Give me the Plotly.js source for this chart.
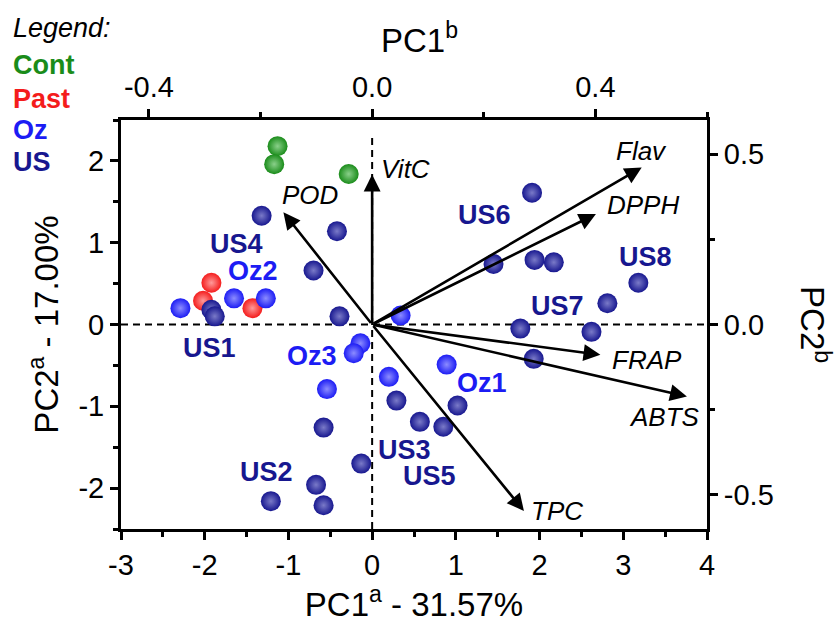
<!DOCTYPE html>
<html>
<head>
<meta charset="utf-8">
<script src="https://cdn.plot.ly/plotly-3.0.1.min.js"></script>
<style>html,body{margin:0;padding:0;background:#fff;}#chart{width:837px;height:624px;}</style>
</head>
<body>
<div id="chart"></div>
<script>
// ---- Scores (PC1a, PC2a) ----
const contX = [-1.13, -1.17, -0.28];
const contY = [2.18, 1.96, 1.84];
const pastX = [-1.92, -2.02, -1.43];
const pastY = [0.51, 0.29, 0.20];
const ozX = [-2.29, -1.65, -1.27, 0.34, -0.14, -0.22, -0.54, 0.20, 0.89];
const ozY = [0.20, 0.32, 0.32, 0.11, -0.23, -0.35, -0.79, -0.64, -0.49];
const usX = [-1.32, -0.42, -0.70, -1.92, -1.88, -0.39, 1.91, 1.45, 1.94, 2.17, 3.18, 2.81,
             1.77, 2.62, 1.93, 0.29, 1.02, 0.57, 0.85, -0.58, -0.13, -0.67, -0.58, -1.21];
const usY = [1.33, 1.14, 0.66, 0.18, 0.10, 0.10, 1.61, 0.74, 0.79, 0.76, 0.51, 0.26,
             -0.05, -0.09, -0.42, -0.93, -0.99, -1.19, -1.25, -1.26, -1.70, -1.96, -2.21, -2.16];

// ---- Loadings (PC1b, PC2b) ----
const loadNames = ['VitC', 'POD', 'Flav', 'DPPH', 'FRAP', 'ABTS', 'TPC'];
const loadX = [0.000, -0.159, 0.483, 0.401, 0.409, 0.564, 0.272];
const loadY = [0.440, 0.329, 0.461, 0.324, -0.089, -0.211, -0.547];

// ---- Group labels ----
const groupNames = ['US4', 'Oz2', 'US1', 'Oz3', 'US2', 'US6', 'US8', 'US7', 'Oz1', 'US3', 'US5'];
const groupX = [-1.62, -1.42, -1.94, -0.72, -1.26, 1.34, 3.26, 2.21, 1.31, 0.39, 0.69];
const groupY = [0.99, 0.66, -0.29, -0.38, -1.80, 1.34, 0.83, 0.23, -0.71, -1.54, -1.85];

// ---- Legend entries ----
const legendNames = ['Cont', 'Past', 'Oz', 'US'];

// ---- Tick labels ----
const xTickVals = [-3, -2, -1, 0, 1, 2, 3, 4];
const xTickText = ['-3', '-2', '-1', '0', '1', '2', '3', '4'];
const yTickVals = [-2, -1, 0, 1, 2];
const yTickText = ['-2', '-1', '0', '1', '2'];
const x2TickVals = [-0.4, 0.0, 0.4];
const x2TickText = ['-0.4', '0.0', '0.4'];
const y2TickVals = [-0.5, 0.0, 0.5];
const y2TickText = ['-0.5', '0.0', '0.5'];

// ---- styles ----
const FONT = "Arial, 'Liberation Sans', sans-serif";
const colors = {Cont: '#1a8c1a', Past: '#f41c1c', Oz: '#1c1cf4', US: '#17178f'};
const hilite = {Cont: '#8ad08a', Past: '#ff9a9a', Oz: '#8c8cff', US: '#7a7ac8'};
const labelShift = {
  VitC: [33, 6], POD: [27, 17], Flav: [0, 16], DPPH: [47, 9],
  FRAP: [47, -5], ABTS: [-22, -21], TPC: [33, 0]
};

function scoreTrace(xs, ys, key) {
  return {
    x: xs, y: ys, type: 'scatter', mode: 'markers', xaxis: 'x', yaxis: 'y',
    hoverinfo: 'skip', showlegend: false,
    marker: {size: 20, color: colors[key], line: {width: 0},
             gradient: {type: 'radial', color: hilite[key]}}
  };
}

const traces = [
  scoreTrace(contX, contY, 'Cont'),
  scoreTrace(pastX, pastY, 'Past'),
  scoreTrace(ozX, ozY, 'Oz'),
  scoreTrace(usX, usY, 'US'),
  {x: loadX, y: loadY, type: 'scatter', mode: 'markers', xaxis: 'x2', yaxis: 'y2',
   marker: {opacity: 0, size: 1}, hoverinfo: 'skip', showlegend: false}
];

const annotations = [];
loadNames.forEach((n, i) => {
  annotations.push({
    xref: 'x2', yref: 'y2', axref: 'x2', ayref: 'y2',
    x: loadX[i], y: loadY[i], ax: 0, ay: 0, text: '',
    showarrow: true, arrowhead: 2, arrowsize: 1.3, arrowwidth: 2.6, arrowcolor: '#000', standoff: 0
  });
  annotations.push({
    xref: 'x2', yref: 'y2', x: loadX[i], y: loadY[i], text: n, showarrow: false,
    xshift: labelShift[n][0], yshift: labelShift[n][1],
    font: {family: FONT, size: 26, color: '#000', style: 'italic'}
  });
});
groupNames.forEach((n, i) => {
  const key = n.startsWith('Oz') ? 'Oz' : 'US';
  annotations.push({
    xref: 'x', yref: 'y', x: groupX[i], y: groupY[i], text: '<b>' + n + '</b>', showarrow: false,
    font: {family: FONT, size: 27, color: colors[key]}
  });
});
// Legend text block
annotations.push({xref: 'paper', yref: 'paper', x: -0.186, y: 1.225, xanchor: 'left', yanchor: 'middle',
  text: 'Legend:', showarrow: false, borderpad: 0, font: {family: FONT, size: 27, color: '#000', style: 'italic'}});
const legendYs = [1.134, 1.051, 0.975, 0.898];
legendNames.forEach((n, i) => {
  annotations.push({xref: 'paper', yref: 'paper', x: -0.186, y: legendYs[i], xanchor: 'left', yanchor: 'middle',
    text: '<b>' + n + '</b>', showarrow: false, borderpad: 0, font: {family: FONT, size: 27, color: colors[n]}});
});
// top and right axis titles
annotations.push({xref: 'paper', yref: 'paper', x: 0.51, y: 1.2, xanchor: 'center', yanchor: 'middle',
  text: 'PC1<sup>b</sup>', showarrow: false, font: {family: FONT, size: 33, color: '#000'}});
annotations.push({xref: 'paper', yref: 'paper', x: 1.184, y: 0.499, xanchor: 'center', yanchor: 'middle',
  text: 'PC2<sup>b</sup>', textangle: 90, showarrow: false, font: {family: FONT, size: 33, color: '#000'}});

const axBase = {
  showgrid: false, zeroline: false, showline: true, linecolor: '#000', linewidth: 3,
  ticks: 'outside', ticklen: 8, tickwidth: 3, tickcolor: '#000', tickmode: 'array',
  tickfont: {family: FONT, size: 29, color: '#000'}
};
const minorBase = {ticklen: 5, tickwidth: 3, tickcolor: '#000', ticks: 'outside', tickmode: 'linear', tick0: 0};

const layout = {
  width: 837, height: 624,
  margin: {l: 121, r: 130, t: 120, b: 95},
  paper_bgcolor: '#fff', plot_bgcolor: '#fff',
  showlegend: false,
  xaxis: Object.assign({}, axBase, {
    range: [-3, 4], tickvals: xTickVals, ticktext: xTickText, side: 'bottom', anchor: 'y',
    minor: Object.assign({dtick: 0.5}, minorBase),
    title: {text: 'PC1<sup>a</sup> - 31.57%', font: {family: FONT, size: 33, color: '#000'}, standoff: 10}
  }),
  yaxis: Object.assign({}, axBase, {
    range: [-2.5, 2.5], tickvals: yTickVals, ticktext: yTickText, side: 'left', anchor: 'x',
    minor: Object.assign({dtick: 0.5}, minorBase),
    title: {text: 'PC2<sup>a</sup> - 17.00%', font: {family: FONT, size: 33, color: '#000'}, standoff: 10}
  }),
  xaxis2: Object.assign({}, axBase, {
    range: [-0.45, 0.6], tickvals: x2TickVals, ticktext: x2TickText, side: 'top',
    overlaying: 'x', anchor: 'y',
    minor: Object.assign({dtick: 0.2}, minorBase)
  }),
  yaxis2: Object.assign({}, axBase, {
    range: [-0.6, 0.6], tickvals: y2TickVals, ticktext: y2TickText, side: 'right',
    overlaying: 'y', anchor: 'x',
    minor: Object.assign({dtick: 0.25}, minorBase)
  }),
  shapes: [
    {type: 'line', xref: 'x', yref: 'y', x0: 0, x1: 0, y0: -2.5, y1: 2.33, layer: 'below',
     line: {color: '#000', width: 2, dash: '7px,5px'}},
    {type: 'line', xref: 'x', yref: 'y', x0: -3, x1: 4, y0: 0, y1: 0, layer: 'below',
     line: {color: '#000', width: 2, dash: '7px,5px'}}
  ],
  annotations: annotations
};

Plotly.newPlot('chart', traces, layout, {staticPlot: true, displayModeBar: false});
</script>
</body>
</html>
